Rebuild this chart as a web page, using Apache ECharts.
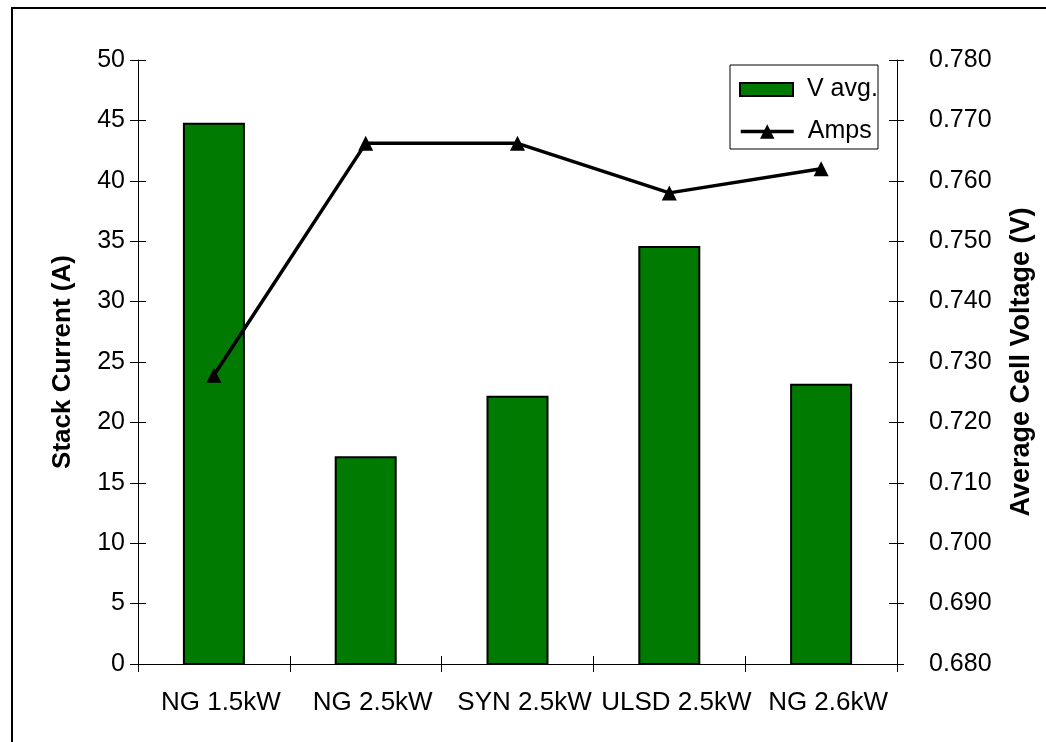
<!DOCTYPE html>
<html>
<head>
<meta charset="utf-8">
<script src="https://cdn.jsdelivr.net/npm/echarts@6/dist/echarts.min.js"></script>
<style>html,body{margin:0;padding:0;background:#fff;}#c{width:1046px;height:742px;}</style>
</head>
<body>
<div id="c"></div>
<script>
const categories = ['NG 1.5kW', 'NG 2.5kW', 'SYN 2.5kW', 'ULSD 2.5kW', 'NG 2.6kW'];
const vAvg = [0.7696, 0.7144, 0.7244, 0.7492, 0.7264];
const amps = [23.9, 43.1, 43.1, 39.0, 41.0];

const chart = echarts.init(document.getElementById('c'));
const font = 'Liberation Sans, Arial, sans-serif';
const FS = 25;
const lbl = {fontFamily: font, fontSize: FS, color: '#000'};
const legendText = {fontFamily: font, fontSize: FS, color: '#000', padding: [0, 0, 0, 9]};
chart.setOption({
  animation: false,
  backgroundColor: '#fff',
  textStyle: {fontFamily: font},
  graphic: [{
    type: 'rect', shape: {x: 12, y: 8, width: 1060, height: 760},
    style: {fill: 'none', stroke: '#000', lineWidth: 2}, silent: true, z: -1
  }, {
    type: 'rect', shape: {x: 730, y: 65, width: 148, height: 84},
    style: {fill: '#fff', stroke: '#000', lineWidth: 1}, silent: true, z: 3
  }],
  grid: {left: 138, right: 149, top: 60, bottom: 78, containLabel: false},
  legend: [{
    left: 739, top: 77, orient: 'vertical', padding: 0,
    itemWidth: 53, itemHeight: 13,
    textStyle: legendText, z: 10,
    data: [{name: 'V avg.', icon: 'rect', itemStyle: {color: '#007a00', borderColor: '#000', borderWidth: 2}}]
  }, {
    left: 739, top: 119, orient: 'vertical', padding: 0,
    itemWidth: 53, itemHeight: 18,
    textStyle: legendText, z: 10,
    data: [{name: 'Amps', lineStyle: {width: 3.5, color: '#000'}, itemStyle: {color: '#000'}}]
  }],
  xAxis: [{
    type: 'category', data: categories, boundaryGap: true,
    axisLine: {lineStyle: {color: '#000', width: 1}},
    axisTick: {show: true, alignWithLabel: false, length: 8, lineStyle: {color: '#000'}},
    axisLabel: Object.assign({}, lbl, {fontSize: 26, margin: 26, interval: 0, padding: [0, 0, 0, 14]}),
    splitLine: {show: false}
  }, {
    type: 'category', data: categories, boundaryGap: true, position: 'bottom',
    axisLine: {show: false},
    axisTick: {show: true, inside: true, length: 8, lineStyle: {color: '#000'}},
    axisLabel: {show: false}, splitLine: {show: false}
  }],
  yAxis: [{
    type: 'value', min: 0, max: 50, interval: 5, position: 'left',
    name: 'Stack Current (A)', nameLocation: 'middle', nameGap: 62,
    nameTextStyle: {fontFamily: font, fontSize: 26, fontWeight: 'bold', color: '#000'},
    axisLine: {show: true, lineStyle: {color: '#000'}},
    axisTick: {show: true, length: 8, lineStyle: {color: '#000'}},
    axisLabel: Object.assign({margin: 13}, lbl),
    splitLine: {show: false}
  }, {
    type: 'value', min: 0.68, max: 0.78, interval: 0.01, position: 'right',
    name: 'Average Cell Voltage (V)', nameLocation: 'middle', nameGap: 111, nameRotate: 90,
    nameTextStyle: {fontFamily: font, fontSize: 27, fontWeight: 'bold', color: '#000'},
    axisLine: {show: true, lineStyle: {color: '#000'}},
    axisTick: {show: true, length: 7, lineStyle: {color: '#000'}},
    axisLabel: Object.assign({margin: 32, formatter: v => v.toFixed(3)}, lbl),
    splitLine: {show: false}
  }, {
    type: 'value', min: 0, max: 50, interval: 5, position: 'left',
    axisLine: {show: false}, axisTick: {show: true, inside: true, length: 8, lineStyle: {color: '#000'}},
    axisLabel: {show: false}, splitLine: {show: false}
  }, {
    type: 'value', min: 0.68, max: 0.78, interval: 0.01, position: 'right',
    axisLine: {show: false}, axisTick: {show: true, inside: true, length: 8, lineStyle: {color: '#000'}},
    axisLabel: {show: false}, splitLine: {show: false}
  }],
  series: [{
    name: 'V avg.', type: 'bar', yAxisIndex: 1, data: vAvg, barWidth: 62,
    itemStyle: {color: '#007a00', borderColor: '#000', borderWidth: 2}
  }, {
    name: 'Amps', type: 'line', yAxisIndex: 0, data: amps,
    symbol: 'triangle', symbolSize: 15, showSymbol: true,
    lineStyle: {color: '#000', width: 3.5},
    itemStyle: {color: '#000'}, z: 2
  }]
});
</script>
</body>
</html>
